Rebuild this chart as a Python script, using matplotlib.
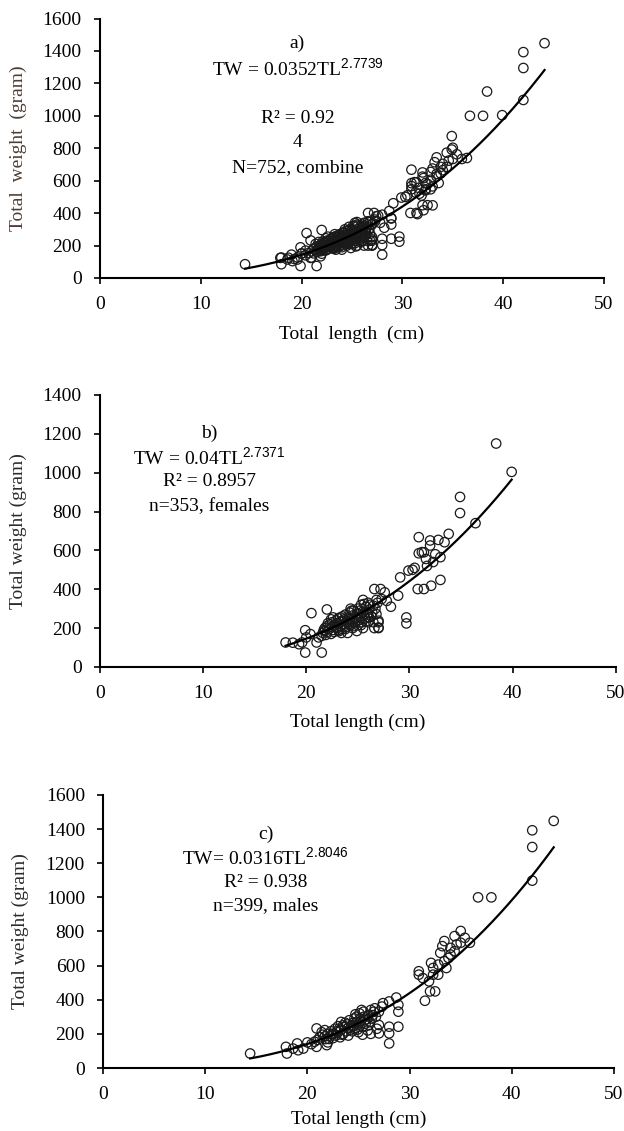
"""Length-weight scatter with power fits: combined, females, males."""

import numpy as np
import matplotlib.pyplot as plt

plt.switch_backend("Agg")
plt.rcParams["font.family"] = ["Liberation Serif", "DejaVu Serif"]
plt.rcParams["mathtext.fontset"] = "custom"
plt.rcParams["mathtext.rm"] = "Liberation Serif"
plt.rcParams["mathtext.sf"] = "Liberation Sans"

# females: total length (cm), total weight (g)
female_tl = [
    18.0, 18.7, 19.3, 19.6, 20.0, 19.9, 19.9, 21.5, 20.5, 22.0, 21.0, 20.4, 21.2,
    21.5, 21.6, 21.8, 21.8, 22.0, 22.0, 22.2, 22.3, 22.4, 22.5, 22.5, 22.6, 22.8,
    22.9, 23.0, 23.0, 23.1, 23.2, 23.3, 23.4, 23.5, 23.5, 23.6, 23.7, 23.8, 23.9,
    24.0, 24.0, 24.1, 24.2, 24.3, 24.4, 24.5, 24.5, 24.6, 24.7, 24.8, 24.9, 25.0,
    25.0, 25.1, 25.2, 25.3, 25.4, 25.5, 25.5, 25.7, 25.8, 25.9, 26.0, 26.0, 26.1,
    26.3, 26.5, 26.6, 26.8, 27.0, 27.0, 26.6, 27.2, 27.6, 27.8, 28.2, 28.9, 29.1,
    29.9, 30.3, 29.7, 29.7, 30.5, 30.9, 30.9, 31.2, 31.4, 30.8, 31.4, 32.1, 33.0,
    32.0, 32.0, 31.6, 32.8, 33.4, 33.0, 33.8, 34.9, 34.9, 36.4, 38.4, 39.9, 26.0,
    27.0, 27.0, 26.8, 25.6, 32.5, 32.3, 31.7,
    21.7, 22.1, 22.4, 22.7, 22.9, 23.1, 23.3, 23.6, 23.8, 24.1, 24.2, 24.4,
    24.6, 24.8, 25.0, 25.2, 25.3, 25.6, 25.8, 26.1, 26.2, 26.4, 26.7, 26.9,
    27.3, 21.9, 23.4, 24.9, 25.5, 24.3, 26.5, 22.6,
]
female_tw = [
    126, 125, 117, 126, 152, 189, 74, 74, 277, 296, 126, 169, 152,
    160, 175, 200, 185, 210, 180, 195, 220, 170, 205, 230, 190, 215,
    240, 200, 225, 250, 185, 210, 235, 260, 195, 220, 245, 270, 205,
    230, 175, 255, 280, 215, 240, 265, 200, 290, 225, 250, 275, 300,
    215, 240, 260, 320, 230, 285, 200, 250, 310, 270, 230, 330, 295,
    260, 315, 200, 345, 230, 200, 401, 401, 384, 340, 310, 367, 461,
    496, 500, 255, 224, 510, 668, 585, 591, 590, 401, 401, 418, 448,
    651, 625, 556, 654, 642, 565, 685, 875, 792, 740, 1150, 1004, 255,
    203, 238, 272, 324, 580, 540, 520,
    190, 225, 245, 180, 205, 190, 255, 235, 195, 220, 245, 290,
    210, 235, 270, 290, 215, 270, 235, 255, 320, 280, 300, 330,
    350, 165, 175, 185, 345, 300, 230, 255,
]

# males: total length (cm), total weight (g)
male_tl = [
    14.4, 17.9, 18.0, 19.0, 19.1, 18.6, 19.6, 20.9, 20.9, 20.7, 21.9, 21.7,
    21.0, 21.2, 21.5, 21.8, 22.0, 22.0, 22.2, 22.3, 22.5, 22.6, 22.7, 22.8,
    23.0, 23.0, 23.2, 23.3, 23.5, 23.5, 23.7, 23.8, 24.0, 24.0, 24.1, 24.3,
    24.4, 24.5, 24.6, 24.7, 24.8, 25.0, 25.0, 25.1, 25.2, 25.3, 25.4, 25.5,
    25.5, 25.7, 25.8, 25.9, 26.0, 26.0, 26.2, 26.3, 26.5,
    26.2, 26.6, 27.0, 27.0, 28.0, 28.0, 28.0, 28.0, 28.7, 28.9, 28.9, 28.9, 27.4,
    30.9, 30.9, 31.3, 31.5, 32.0, 32.5, 31.9, 32.3, 32.1, 32.3, 32.8, 33.0,
    33.2, 33.4, 33.6, 33.8, 34.0, 34.4, 34.6, 35.0, 35.0, 35.4, 35.9, 34.0,
    33.4, 32.8, 34.4, 36.7, 38.0, 42.0, 42.0, 42.0, 44.1,
    21.4, 21.7, 22.1, 22.4, 22.9, 23.1, 23.4, 23.6, 23.9, 24.2, 24.5, 24.8,
    24.9, 25.2, 25.6, 25.9, 26.1, 26.4, 26.7, 27.0, 27.3, 23.3, 24.7, 25.4,
    26.8, 20.0, 20.4,
]
male_tw = [
    85, 124, 85, 144, 104, 114, 114, 232, 124, 154, 134, 222,
    165, 180, 195, 170, 200, 150, 185, 215, 175, 200, 230, 190,
    210, 245, 180, 225, 250, 200, 265, 215, 235, 190, 280, 250,
    215, 265, 290, 235, 300, 255, 210, 320, 275, 340, 240, 300,
    330, 260, 285, 220, 310, 250, 200, 290, 330,
    340, 350, 252, 203, 390, 203, 144, 242, 413, 370, 242, 330, 380,
    567, 547, 527, 394, 449, 449, 508, 547, 616, 586, 606, 675,
    714, 744, 586, 645, 704, 773, 724, 803, 734, 763, 734, 665,
    626, 547, 685, 1000, 1000, 1295, 1393, 1098, 1448,
    210, 185, 170, 200, 215, 230, 195, 240, 255, 225, 245, 270,
    225, 290, 280, 305, 270, 310, 300, 330, 360, 270, 315, 195,
    230, 150, 140,
]

# fitted power curves TW = a * TL^b, as printed on each panel
fit_a = [0.0352, 0.04, 0.0316]
fit_b = [2.7739, 2.7371, 2.8046]

panel_tl = [female_tl + male_tl, female_tl, male_tl]
panel_tw = [female_tw + male_tw, female_tw, male_tw]
panel_ymax = [1600, 1400, 1600]
panel_text = [
    ["a)", r"TW = 0.0352TL$^{\mathsf{2.7739}}$", "", "R\u00b2 = 0.92", "4", "N=752, combine"],
    ["b)", r"TW = 0.04TL$^{\mathsf{2.7371}}$", "R\u00b2 = 0.8957", "n=353, females"],
    ["c)", r"TW= 0.0316TL$^{\mathsf{2.8046}}$", "R\u00b2 = 0.938", "n=399, males"],
]
text_x = [19.6, 10.6, 15.9]
text_top = [1445, 1202, 1370]
text_step = [153, 125, 140]
xlabels = ["Total  length  (cm)", "Total length (cm)", "Total length (cm)"]
ylabels = ["Total  weight  (gram)", "Total weight (gram)", "Total weight (gram)"]
ylabel_colors = ["#4d3d32", "#2b2b2b", "#2b2b2b"]
xlabel_y = [-0.185, -0.17, -0.155]
ylabel_x = [-0.145, -0.141, -0.145]

# axes rectangles in figure fractions
rects = [
    [0.160, 0.7542, 0.808, 0.2294],
    [0.160, 0.4103, 0.827, 0.2405],
    [0.165, 0.0557, 0.819, 0.2414],
]

fig = plt.figure(figsize=(6.24, 11.31), dpi=100)
for i in range(3):
    ax = fig.add_axes(rects[i])
    ax.scatter(panel_tl[i], panel_tw[i], s=46, facecolors="none",
               edgecolors="#1a1a1a", linewidths=0.9, zorder=2)
    xs = np.linspace(min(panel_tl[i]), max(panel_tl[i]), 200)
    ax.plot(xs, fit_a[i] * xs ** fit_b[i], color="black", lw=1.6, zorder=3)

    ax.set_xlim(0, 50)
    ax.set_ylim(0, panel_ymax[i])
    ax.set_xticks(range(0, 51, 10))
    ax.set_yticks(range(0, panel_ymax[i] + 1, 200))
    for side in ("top", "right"):
        ax.spines[side].set_visible(False)
    for side in ("left", "bottom"):
        ax.spines[side].set_linewidth(1.5)
    ax.tick_params(axis="both", direction="out", length=4, width=1.2,
                   labelsize=14, colors="black")
    ax.tick_params(axis="x", pad=9)
    ax.tick_params(axis="y", pad=9)

    ax.set_xlabel(xlabels[i], fontsize=14)
    ax.set_ylabel(ylabels[i], fontsize=14, color=ylabel_colors[i])
    ax.xaxis.set_label_coords(0.5, xlabel_y[i])
    ax.yaxis.set_label_coords(ylabel_x[i], 0.5)

    for j, line in enumerate(panel_text[i]):
        ax.text(text_x[i], text_top[i] - j * text_step[i], line, fontsize=14,
                ha="center", va="center")

fig.savefig("out.png", dpi=100)
